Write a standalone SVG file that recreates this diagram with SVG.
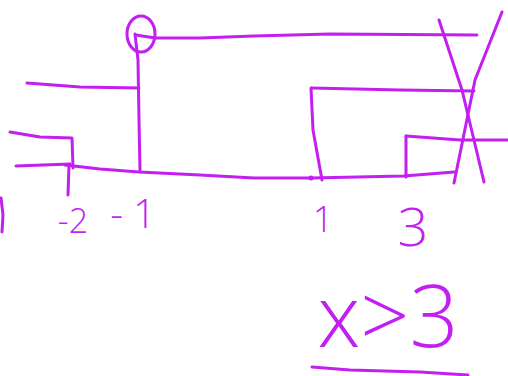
<svg xmlns="http://www.w3.org/2000/svg" width="508" height="376" viewBox="0 0 508 376">
<style>
.s{fill:none;stroke:#c21ff0;stroke-width:3;stroke-linecap:round;stroke-linejoin:round}
.t{fill:#c21ff0;font-family:"Open Sans","Liberation Sans",sans-serif;font-weight:300;text-anchor:middle}
</style>
<rect width="508" height="376" fill="#fff"/>
<g id="number-line">
<ellipse class="s" cx="141" cy="34" rx="14" ry="18"/>
<path class="s" d="M135,34 L138,60 L139,120 L140,170"/>
<path class="s" d="M136,35 L155,38 L200,38 L254,36 L330,34 L477,35"/>
<path class="s" d="M27,83 L80,87 L139,88"/>
<path class="s" d="M10,132 L40,137 L72,138 L73,168"/>
<path class="s" d="M16,166 L70,164"/>
<path class="s" d="M65,165 L100,169 L139,172 L200,175 L254,178 L311,178 L404,176 L454,172"/>
<path class="s" d="M69,165 L68,195"/>
<path class="s" d="M1,198 L3,215 L2,232"/>
<path class="s" d="M311,88 L313,130 L322,180"/>
<path class="s" d="M312,88 L400,90 L474,91"/>
<circle cx="311" cy="178" r="2.5" fill="#c21ff0"/>
<path class="s" d="M406,136 L406,177"/>
<path class="s" d="M406,136 L460,140 L508,140"/>
<path class="s" d="M439,20 L462,90 L484,182"/>
<path class="s" d="M502,12 L475,80 L454,183"/>
<path class="s" d="M312,367 L350,370 L420,372 L468,375"/>
</g>
<g id="labels">
<text class="t" x="73" y="233" font-size="34">-2</text>
<text class="t" x="138" y="228" font-size="40" letter-spacing="10">-1</text>
<text class="t" x="323" y="232" font-size="36">1</text>
<text class="t" x="413" y="246" font-size="54">3</text>
<text class="t" x="388" y="347" font-size="86">x&gt;3</text>
</g>
</svg>
